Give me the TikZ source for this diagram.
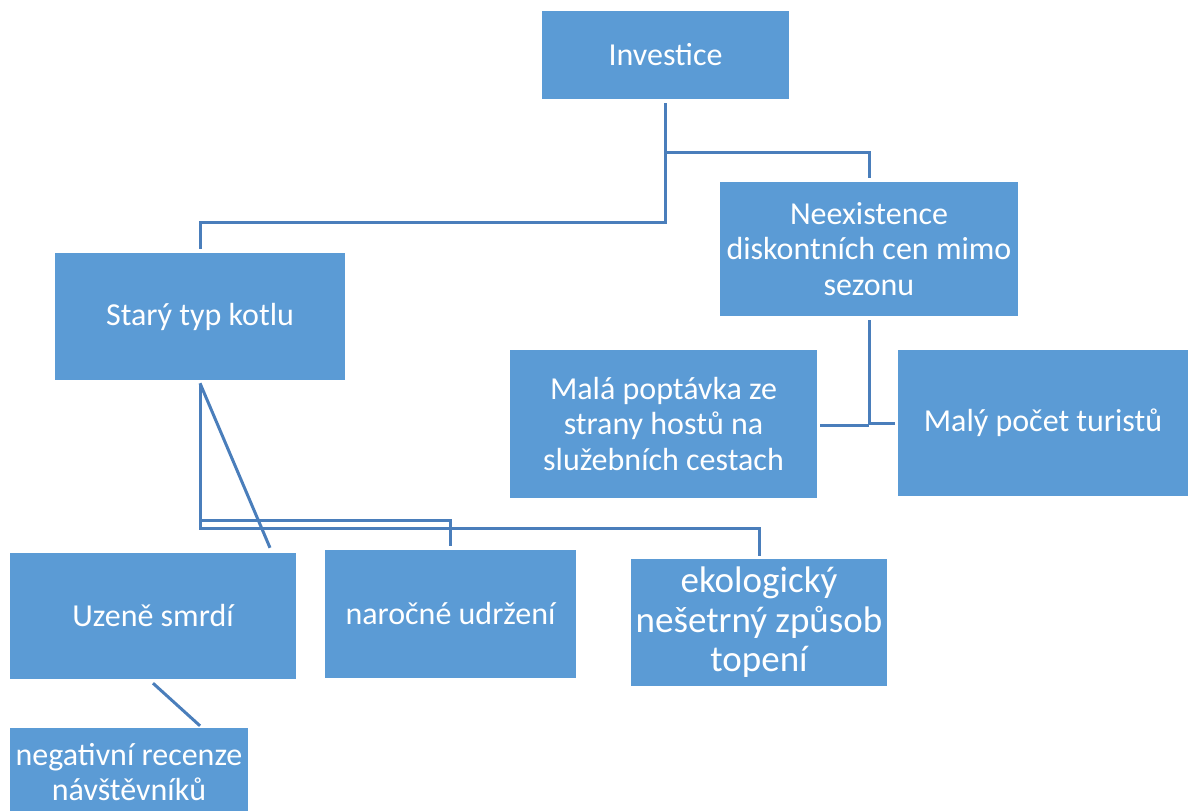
\documentclass[tikz,border=0pt]{standalone}
\usepackage{fontspec}
\setmainfont{Carlito}
\definecolor{boxblue}{HTML}{5B9BD5}
\definecolor{linkblue}{HTML}{4A7EBB}
\tikzset{
  box/.style={fill=boxblue, text=white, align=center, inner sep=0pt,
    font=\fontsize{32}{35.5}\selectfont},
  bigtext/.style={font=\fontsize{37}{39.5}\selectfont},
  conn/.style={draw=linkblue, line width=3pt}
}
\begin{document}
\begin{tikzpicture}[x=1pt, y=-1pt]
  \useasboundingbox (0,0) rectangle (1189,811);
  \clip (0,0) rectangle (1189,811);

  % boxes
  \node[box, minimum width=247pt, minimum height=88pt] (inv) at (665.5,55) {Investice};
  \node[box, minimum width=298pt, minimum height=134pt] (neex) at (869,249) {Neexistence\\diskontních cen mimo\\sezonu};
  \node[box, minimum width=290pt, minimum height=127pt] (kotel) at (200,316.5) {Starý typ kotlu};
  \node[box, minimum width=307pt, minimum height=148pt] (popt) at (663.5,424) {Malá poptávka ze\\strany hostů na\\služebních cestach};
  \node[box, minimum width=290pt, minimum height=146pt] (tur) at (1043,423) {Malý počet turistů};
  \node[box, minimum width=286pt, minimum height=126pt] (uzen) at (153,616) {Uzeně smrdí};
  \node[box, minimum width=251pt, minimum height=128pt] (udr) at (450.5,614) {naročné udržení};
  \node[box, bigtext, minimum width=256pt, minimum height=127pt] (eko) at (759,622.5) {ekologický\\nešetrný způsob\\topení};
  \node[box, minimum width=238pt, minimum height=88pt] (neg) at (129,772) {negativní recenze\\návštěvníků};

  % connectors
  \draw[conn] ([yshift=-4pt]inv.south) -- (inv.south |- 0,222) -| ([yshift=4pt]kotel.north);
  \draw[conn] (inv.south |- 0,152) -| ([yshift=4pt]neex.north);
  \draw[conn] ([yshift=-4pt]neex.south) -- (neex.south |- 0,425);
  \draw[conn] ([xshift=3pt]popt.east |- 0,425) -- (neex.south |- 0,425);
  \draw[conn] (neex.south |- 0,423) -- ([xshift=-3pt]tur.west);
  \draw[conn] ([yshift=-4pt]kotel.south) -- (kotel.south |- 0,528) -| ([yshift=3pt]eko.north);
  \draw[conn] (kotel.south |- 0,520) -| ([yshift=4pt]udr.north);
  \coordinate (uzentop) at ([xshift=117pt,yshift=5pt]uzen.north);
  \draw[conn] ([yshift=-3pt]kotel.south) -- (uzentop);
  \coordinate (negtop) at ([xshift=71pt,yshift=2pt]neg.north);
  \draw[conn] ([yshift=-4pt]uzen.south) -- (negtop);
\end{tikzpicture}
\end{document}
